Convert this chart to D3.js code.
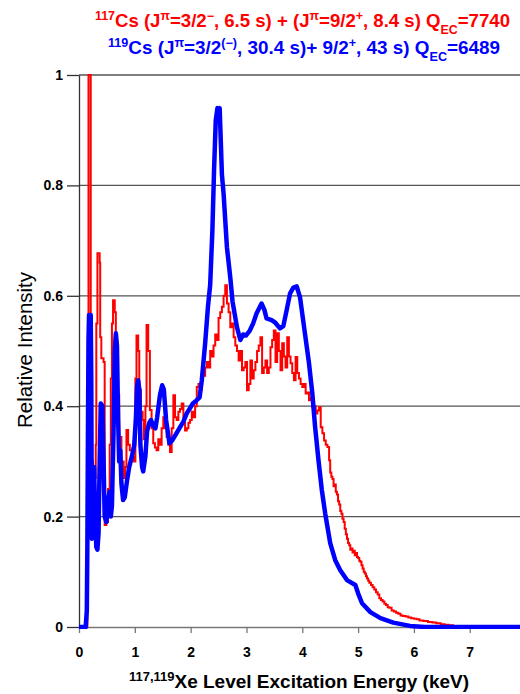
<!DOCTYPE html>
<html>
<head>
<meta charset="utf-8">
<script src="https://cdn.jsdelivr.net/npm/d3@7"></script>
<style>
  html, body { margin: 0; padding: 0; background: #fff; }
  #chart svg { display: block; font-family: "Liberation Sans", Arial, sans-serif; }
</style>
</head>
<body>
<div id="chart"></div>
<script>
// tick values
const xTicks = [0, 1, 2, 3, 4, 5, 6, 7];
const yTicks = [0, 0.2, 0.4, 0.6, 0.8, 1];

// 117Cs spectrum (keV, relative intensity)
const cs117 = [
  [0.00, 0], [0.14, 0], [0.15, 0.30], [0.16, 0.47], [0.17, 1.0], [0.20, 1.0],
  [0.21, 0.40], [0.23, 0.30], [0.25, 0.26], [0.28, 0.27], [0.30, 0.33], [0.31, 0.55],
  [0.33, 0.677], [0.37, 0.66], [0.38, 0.525], [0.40, 0.487], [0.44, 0.48], [0.46, 0.185],
  [0.49, 0.19], [0.52, 0.25], [0.55, 0.33], [0.57, 0.45], [0.59, 0.55], [0.61, 0.592],
  [0.64, 0.57], [0.66, 0.48], [0.69, 0.42], [0.72, 0.344], [0.76, 0.30], [0.80, 0.27],
  [0.83, 0.29], [0.85, 0.357], [0.88, 0.33], [0.91, 0.32], [0.95, 0.308], [0.98, 0.30],
  [1.01, 0.45], [1.03, 0.528], [1.06, 0.50], [1.08, 0.43], [1.11, 0.39], [1.14, 0.375],
  [1.16, 0.34], [1.19, 0.40], [1.21, 0.547], [1.24, 0.50], [1.27, 0.393], [1.30, 0.36],
  [1.33, 0.333], [1.36, 0.325], [1.39, 0.32], [1.42, 0.34], [1.45, 0.33], [1.48, 0.36],
  [1.51, 0.38], [1.54, 0.36], [1.57, 0.344], [1.60, 0.33], [1.63, 0.317], [1.66, 0.36],
  [1.69, 0.42], [1.72, 0.38], [1.75, 0.375], [1.78, 0.39], [1.81, 0.395], [1.84, 0.405],
  [1.87, 0.37], [1.90, 0.356], [1.93, 0.36], [1.96, 0.37], [1.99, 0.375], [2.02, 0.39],
  [2.05, 0.38], [2.08, 0.40], [2.11, 0.435], [2.14, 0.44], [2.17, 0.43], [2.20, 0.46],
  [2.23, 0.455], [2.26, 0.47], [2.29, 0.48], [2.32, 0.47], [2.35, 0.50], [2.38, 0.49],
  [2.41, 0.51], [2.44, 0.53], [2.47, 0.52], [2.50, 0.56], [2.53, 0.57], [2.56, 0.58],
  [2.59, 0.60], [2.62, 0.619], [2.65, 0.586], [2.68, 0.57], [2.71, 0.543], [2.74, 0.55],
  [2.77, 0.525], [2.80, 0.51], [2.83, 0.50], [2.86, 0.483], [2.89, 0.50], [2.92, 0.465],
  [2.95, 0.47], [2.98, 0.48], [3.01, 0.429], [3.04, 0.44], [3.07, 0.483], [3.10, 0.45],
  [3.13, 0.465], [3.16, 0.48], [3.19, 0.50], [3.22, 0.51], [3.25, 0.525], [3.28, 0.46],
  [3.31, 0.47], [3.34, 0.483], [3.37, 0.46], [3.40, 0.47], [3.43, 0.507], [3.46, 0.52],
  [3.49, 0.537], [3.52, 0.48], [3.55, 0.532], [3.58, 0.50], [3.61, 0.465], [3.64, 0.514],
  [3.67, 0.49], [3.70, 0.47], [3.73, 0.525], [3.76, 0.49], [3.79, 0.478], [3.82, 0.46],
  [3.85, 0.447], [3.88, 0.489], [3.91, 0.46], [3.94, 0.45], [3.97, 0.44], [4.00, 0.435],
  [4.03, 0.44], [4.06, 0.423], [4.09, 0.425], [4.12, 0.411], [4.15, 0.415], [4.18, 0.398],
  [4.21, 0.40], [4.24, 0.387], [4.27, 0.392], [4.30, 0.398], [4.33, 0.362], [4.36, 0.351],
  [4.39, 0.338], [4.42, 0.33], [4.45, 0.326], [4.48, 0.302], [4.50, 0.28], [4.52, 0.272],
  [4.54, 0.268], [4.56, 0.255], [4.58, 0.258], [4.60, 0.245], [4.62, 0.24], [4.64, 0.228],
  [4.66, 0.222], [4.68, 0.21], [4.70, 0.205], [4.72, 0.196], [4.74, 0.19], [4.76, 0.178],
  [4.78, 0.168], [4.80, 0.16], [4.82, 0.152], [4.84, 0.148], [4.86, 0.14], [4.88, 0.142],
  [4.90, 0.135], [4.92, 0.138], [4.94, 0.13], [4.96, 0.134], [4.98, 0.127], [5.00, 0.125],
  [5.02, 0.12], [5.04, 0.118], [5.06, 0.112], [5.08, 0.106], [5.10, 0.1], [5.12, 0.097],
  [5.14, 0.092], [5.16, 0.088], [5.18, 0.084], [5.20, 0.08], [5.23, 0.076], [5.26, 0.072],
  [5.29, 0.068], [5.32, 0.063], [5.35, 0.059], [5.38, 0.052], [5.41, 0.049], [5.44, 0.046],
  [5.47, 0.042], [5.50, 0.04], [5.53, 0.036], [5.56, 0.035], [5.60, 0.03], [5.64, 0.028],
  [5.68, 0.026], [5.72, 0.024], [5.76, 0.021], [5.80, 0.02], [5.85, 0.019], [5.90, 0.017],
  [5.95, 0.016], [6.00, 0.015], [6.05, 0.014], [6.10, 0.012], [6.17, 0.011], [6.25, 0.009],
  [6.33, 0.008], [6.40, 0.007], [6.48, 0.005], [6.55, 0.004], [6.62, 0.003], [6.70, 0.002],
  [6.85, 0]
];

// 119Cs spectrum (keV, relative intensity)
const cs119 = [
  [0, 0], [0.12, 0], [0.14, 0.03], [0.15, 0.15], [0.16, 0.35], [0.17, 0.52], [0.18, 0.565],
  [0.21, 0.565], [0.22, 0.45], [0.23, 0.16], [0.25, 0.18], [0.27, 0.29], [0.29, 0.2],
  [0.31, 0.145], [0.33, 0.14], [0.35, 0.17], [0.37, 0.3], [0.39, 0.405], [0.42, 0.40],
  [0.44, 0.3], [0.46, 0.2], [0.49, 0.19], [0.52, 0.23], [0.55, 0.245], [0.57, 0.2],
  [0.59, 0.22], [0.62, 0.36], [0.64, 0.5], [0.66, 0.532], [0.68, 0.51], [0.70, 0.38],
  [0.72, 0.3], [0.74, 0.32], [0.76, 0.26], [0.79, 0.23], [0.82, 0.235], [0.86, 0.265],
  [0.90, 0.29], [0.95, 0.31], [0.99, 0.33], [1.02, 0.38], [1.04, 0.435], [1.06, 0.447],
  [1.08, 0.43], [1.10, 0.33], [1.13, 0.29], [1.15, 0.282], [1.19, 0.31], [1.22, 0.355],
  [1.26, 0.37], [1.29, 0.375], [1.33, 0.365], [1.37, 0.36], [1.40, 0.38], [1.45, 0.42],
  [1.49, 0.438], [1.52, 0.43], [1.56, 0.375], [1.62, 0.333], [1.67, 0.338], [1.74, 0.35],
  [1.81, 0.362], [1.87, 0.372], [1.93, 0.387], [1.98, 0.395], [2.04, 0.405], [2.10, 0.41],
  [2.16, 0.416], [2.20, 0.447], [2.26, 0.514], [2.31, 0.58], [2.35, 0.62], [2.39, 0.72],
  [2.42, 0.83], [2.45, 0.918], [2.48, 0.94], [2.50, 0.93], [2.52, 0.94], [2.54, 0.88],
  [2.56, 0.82], [2.59, 0.785], [2.65, 0.688], [2.71, 0.633], [2.75, 0.59], [2.83, 0.543],
  [2.89, 0.52], [2.94, 0.53], [2.99, 0.528], [3.06, 0.537], [3.12, 0.55], [3.18, 0.568],
  [3.27, 0.586], [3.32, 0.575], [3.36, 0.559], [3.45, 0.556], [3.51, 0.552], [3.60, 0.541],
  [3.66, 0.545], [3.72, 0.574], [3.78, 0.604], [3.84, 0.615], [3.90, 0.617], [3.96, 0.597],
  [4.05, 0.53], [4.12, 0.478], [4.18, 0.423], [4.23, 0.362], [4.29, 0.302], [4.35, 0.248],
  [4.41, 0.206], [4.50, 0.152], [4.59, 0.121], [4.68, 0.103], [4.80, 0.085], [4.95, 0.076],
  [5.00, 0.061], [5.07, 0.043], [5.22, 0.027], [5.40, 0.016], [5.63, 0.008], [5.93, 0.002],
  [6.20, 0], [7.95, 0]
];

function createSpectrumChart(containerId, options = {}) {
  const defaults = {
    width: 520,
    height: 694,
    margin: { top: 75, right: 0, bottom: 67, left: 79 },
    xMax: 7.9,
    gridColor: "#555",
  };
  const config = { ...defaults, ...options };

  d3.select(containerId).selectAll("*").remove();

  const svg = d3
    .select(containerId)
    .append("svg")
    .attr("width", config.width)
    .attr("height", config.height);

  const width = config.width - config.margin.left - config.margin.right;
  const height = config.height - config.margin.top - config.margin.bottom;

  const g = svg
    .append("g")
    .attr("transform", `translate(${config.margin.left},${config.margin.top})`);

  // Scales
  const x = d3.scaleLinear().domain([0, config.xMax]).range([0, width]);
  const y = d3.scaleLinear().domain([0, 1]).range([height, 0]);

  // Horizontal grid lines
  g.append("g")
    .selectAll("line")
    .data(yTicks.filter((d) => d > 0))
    .enter()
    .append("line")
    .attr("x1", 0)
    .attr("x2", width)
    .attr("y1", (d) => y(d))
    .attr("y2", (d) => y(d))
    .attr("stroke", config.gridColor)
    .attr("stroke-width", 1.3);

  // X-axis
  const xAxis = g
    .append("g")
    .attr("transform", `translate(0,${height})`)
    .call(d3.axisBottom(x).tickValues(xTicks).tickSize(6).tickSizeOuter(0).tickPadding(14));
  xAxis.select(".domain").attr("stroke", "#777").attr("stroke-width", 1.3);
  xAxis.selectAll(".tick line").attr("stroke", "#777").attr("stroke-width", 1.3);
  xAxis
    .selectAll("text")
    .attr("fill", "#000")
    .style("font-size", "14px")
    .style("font-weight", "bold");

  // Y-axis
  const yAxis = g
    .append("g")
    .call(d3.axisLeft(y).tickValues(yTicks).tickFormat((d) => String(d)).tickSize(12).tickSizeOuter(0).tickPadding(4));
  yAxis.select(".domain").attr("stroke", "#333").attr("stroke-width", 1.3);
  yAxis.selectAll(".tick line").attr("stroke", "#333").attr("stroke-width", 1.3);
  yAxis
    .selectAll("text")
    .attr("fill", "#000")
    .style("font-size", "14px")
    .style("font-weight", "bold");

  // Spectra
  svg
    .append("clipPath")
    .attr("id", "plot-clip")
    .append("rect")
    .attr("x", 0)
    .attr("y", -2)
    .attr("width", width)
    .attr("height", height + 4);

  const line = d3
    .line()
    .x((d) => x(d[0]))
    .y((d) => y(d[1]));

  g.append("path")
    .datum(cs117)
    .attr("clip-path", "url(#plot-clip)")
    .attr("fill", "none")
    .attr("stroke", "#ff0000")
    .attr("stroke-width", 2)
    .attr("d", line.curve(d3.curveStepAfter));

  g.append("path")
    .datum(cs119)
    .attr("clip-path", "url(#plot-clip)")
    .attr("fill", "none")
    .attr("stroke", "#0000ff")
    .attr("stroke-width", 4.5)
    .attr("stroke-linejoin", "round")
    .attr("d", line.curve(d3.curveLinear));

  // Titles (superscripts / subscripts as tspans)
  function richText(sel, parts, small) {
    parts.forEach(([txt, shift]) => {
      const ts = sel.append("tspan").text(txt);
      if (shift) ts.attr("baseline-shift", shift).style("font-size", small);
    });
  }

  const t1 = svg
    .append("text")
    .attr("x", 95)
    .attr("y", 27)
    .attr("fill", "#ff0000")
    .attr("textLength", 415)
    .attr("lengthAdjust", "spacingAndGlyphs")
    .style("font-size", "18px")
    .style("font-weight", "bold");
  richText(t1, [
    ["117", "super"], ["Cs (J"], ["π", "super"], ["=3/2"], ["−", "super"],
    [", 6.5 s) + (J"], ["π", "super"], ["=9/2"], ["+", "super"], [", 8.4 s) Q"],
    ["EC", "sub"], ["=7740"],
  ], "12px");

  const t2 = svg
    .append("text")
    .attr("x", 108)
    .attr("y", 54)
    .attr("fill", "#0000ff")
    .attr("textLength", 392)
    .attr("lengthAdjust", "spacingAndGlyphs")
    .style("font-size", "18px")
    .style("font-weight", "bold");
  richText(t2, [
    ["119", "super"], ["Cs (J"], ["π", "super"], ["=3/2"], ["(−)", "super"],
    [", 30.4 s)+ 9/2"], ["+", "super"], [", 43 s) Q"], ["EC", "sub"], ["=6489"],
  ], "12px");

  // Axis labels
  const xl = svg
    .append("text")
    .attr("x", 299)
    .attr("y", 688)
    .attr("text-anchor", "middle")
    .attr("fill", "#000")
    .style("font-size", "19px")
    .style("font-weight", "bold");
  richText(xl, [["117,119", "super"], ["Xe Level Excitation Energy (keV)"]], "13px");

  svg
    .append("text")
    .attr("transform", "translate(32,350) rotate(-90)")
    .attr("text-anchor", "middle")
    .attr("fill", "#000")
    .style("font-size", "20.5px")
    .text("Relative Intensity");

  return { svg, g, x, y };
}

createSpectrumChart("#chart");
</script>
</body>
</html>
